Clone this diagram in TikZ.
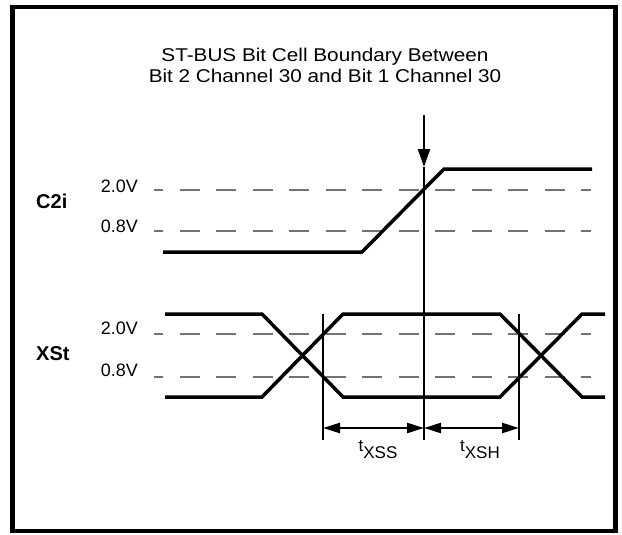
\documentclass[tikz,border=0pt]{standalone}
\usepackage{fontspec}
\setmainfont{Liberation Sans}
\newfontfamily\titlefont[FakeStretch=1.12]{Liberation Sans}
\usetikzlibrary{arrows.meta}
\begin{document}
\begin{tikzpicture}[x=1pt,y=-1pt,
 sig/.style={line width=3.5pt, line join=miter},
 thr/.style={draw=black!55, line width=1.2pt, dash pattern=on 20pt off 16.5pt, dash phase=11pt},
 vline/.style={line width=1.8pt},
 lab/.style={font=\fontsize{18}{21}\selectfont, inner sep=0pt},
 sname/.style={font=\fontsize{20}{23}\selectfont\bfseries, inner sep=0pt},
 tlab/.style={font=\fontsize{17}{20}\selectfont, inner sep=0pt},
 dimarrow/.style={line width=2.5pt, {Triangle[length=17pt,width=10pt]}-{Triangle[length=17pt,width=10pt]}},
 ttl/.style={font=\titlefont\fontsize{18.5}{21}\selectfont, inner sep=0pt},
]
\useasboundingbox (0,0) rectangle (622,535);
\draw[line width=4.5pt] (12.5,7) rectangle (615.5,531);

\node[ttl, anchor=base] (title1) at (325,62) {ST-BUS Bit Cell Boundary Between};
\node[ttl, anchor=base] (title2) at (325,83) {Bit 2 Channel 30 and Bit 1 Channel 30};

% labels
\node[sname, anchor=base west] (c2i) at (36,208) {C2i};
\node[sname, anchor=base west] (xst) at (36,360) {XSt};
\node[lab, anchor=base east] (c2ihi) at (138,192) {2.0V};
\node[lab, anchor=base east] (c2ilo) at (138,232) {0.8V};
\node[lab, anchor=base east] (xsthi) at (138,334) {2.0V};
\node[lab, anchor=base east] (xstlo) at (138,376) {0.8V};

% threshold lines
\draw[thr] (154,190) -- (591,190);
\draw[thr] (154,231) -- (591,231);
\draw[thr] (154,334) -- (591,334);
\draw[thr] (154,377) -- (591,377);

% C2i waveform
\draw[sig] (163,252) -- (362,252) -- (444,169) -- (592,169);

% XSt waveforms
\draw[sig] (165,314) -- (262,314) -- (343,397) -- (500,397) -- (582,314) -- (605,314);
\draw[sig] (165,397) -- (262,397) -- (343,314) -- (500,314) -- (582,397) -- (605,397);

% reference lines
\coordinate (atop) at (424,115);
\coordinate (atip) at (424,167);
\coordinate (mbot) at (424,440);
\coordinate (ltop) at (323,314);
\coordinate (lbot) at (323,440);
\coordinate (rtop) at (519,314);
\coordinate (rbot) at (519,440);
\draw[vline, -{Triangle[length=18pt,width=12pt]}] (atop) -- (atip);
\draw[vline] (atip) -- (mbot);
\draw[vline] (ltop) -- (lbot);
\draw[vline] (rtop) -- (rbot);

% dimension arrows
\coordinate (dl) at (323,428);
\coordinate (dm) at (424,428);
\coordinate (dr) at (519,428);
\draw[dimarrow] (dl) -- (dm);
\draw[dimarrow] (dm) -- (dr);

\node[tlab, anchor=base] (txss) at (378,451) {t\raisebox{-7pt}{XSS}};
\node[tlab, anchor=base] (txsh) at (480,451) {t\raisebox{-7pt}{XSH}};
\end{tikzpicture}
\end{document}
